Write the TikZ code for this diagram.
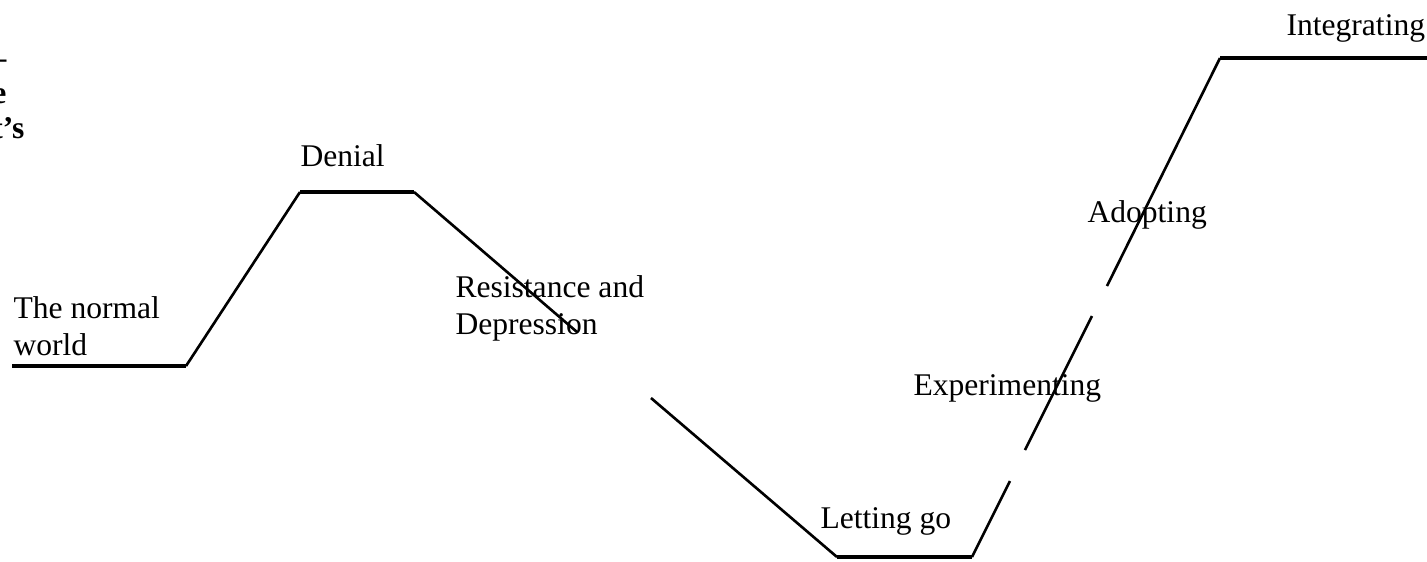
\documentclass[tikz,border=0pt]{standalone}
\usepackage{fontspec}
\setmainfont{Liberation Serif}
\usetikzlibrary{positioning, calc}
\tikzset{
  slope/.style={line width=1pt}, % the rising and falling parts
  level/.style={line width=1.45pt}, % the flat parts
  phase/.style={anchor=base west, inner sep=0pt, align=left,
	font=\fontsize{12}{13.7}\selectfont},
  cutoff/.style={anchor=base east, inner sep=0pt,
	font=\fontsize{12}{13.7}\selectfont\bfseries},
}
\begin{document}
\begin{tikzpicture}[x=0.38pt, y=-0.38pt]
		\useasboundingbox (0,0) rectangle (1427,561);
		\clip (0,0) rectangle (1427,561);

		% Puntos de la curva
		\coordinate (n0) at (12,366);
		\coordinate (n1) at (186,366);
		\coordinate (d0) at (300,192);
		\coordinate (d1) at (414,192);
		\coordinate (r0) at (577,332);
		\coordinate (r1) at (651,398);
		\coordinate (l0) at (837,557);
		\coordinate (l1) at (972,557);
		\coordinate (e0) at (1010,481);
		\coordinate (e1) at (1025,450);
		\coordinate (a0) at (1092,316);
		\coordinate (a1) at (1107,286);
		\coordinate (i0) at (1220,58);
		\coordinate (i1) at (1427,58);

		% Tramos planos
		\draw [level] (n0) -- (n1);
		\draw [level] (d0) -- (d1);
		\draw [level] (l0) -- (l1);
		\draw [level] (i0) -- (i1);

		% Tramos inclinados
		\draw [slope] (n1) -- (d0);
		\draw [slope] (d1) -- (r0);
		\draw [slope] (r1) -- (l0);
		\draw [slope] (l1) -- (e0);
		\draw [slope] (e1) -- (a0);
		\draw [slope] (a1) -- (i0);

		% Etiquetas
		\node [phase] (normal) at (13,355) {The normal\\world};
		\node [phase] (denial) at (300,166) {Denial};
		\node [phase] (resist) at (455,334) {Resistance and\\Depression};
		\node [phase] (letgo) at (820,528) {Letting go};
		\node [phase] (exper) at (913,395) {Experimenting};
		\node [phase] (adopt) at (1087,222) {Adopting};
		\node [phase] (integ) at (1286,35) {Integrating};

		% Texto cortado a la izquierda
		\node [cutoff] (cut1) at (7,68) {–};
		\node [cutoff] (cut2) at (7,103) {e};
		\node [cutoff] (cut3) at (25,138) {t’s};
\end{tikzpicture}
\end{document}
